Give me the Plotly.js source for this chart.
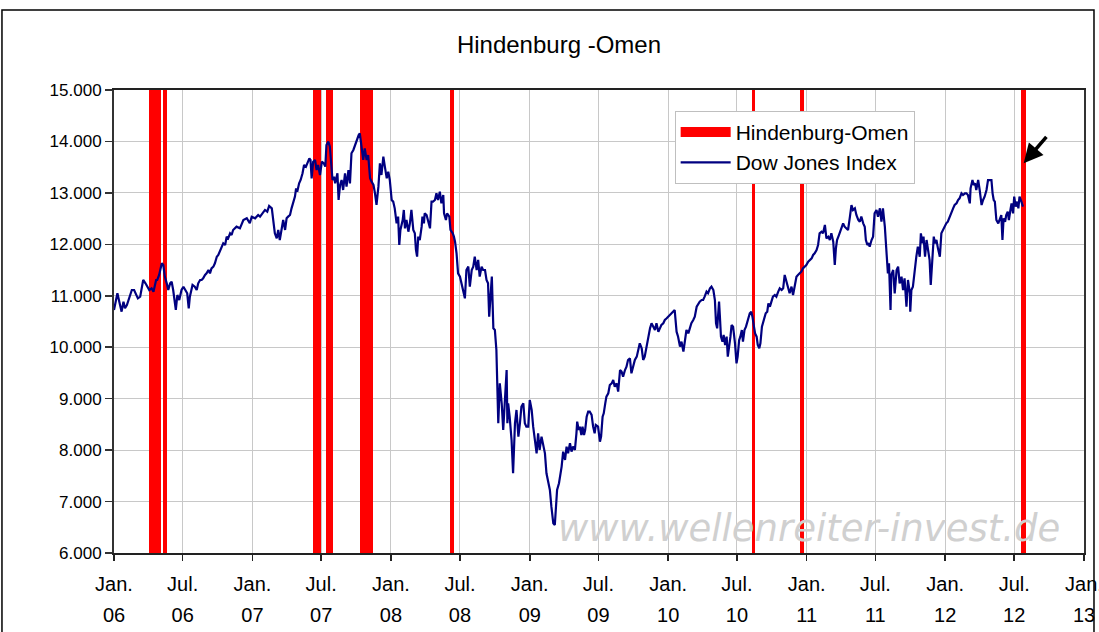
<!DOCTYPE html>
<html><head><meta charset="utf-8">
<script src="https://cdn.plot.ly/plotly-3.0.1.min.js"></script>
<style>html,body{margin:0;padding:0;background:#fff;}#chart{width:1099px;height:632px;}</style>
</head><body><div id="chart"></div>
<script>
// Dow Jones Index: days since 2006-01-01 and index level
const dowDays = [
  0,9,14,20,25,29,34,38,42,47, 53,58,63,69,74,77,83,88,93,99,
  104,107,111,114,119,123,126,130,134,139, 143,148,152,156,161,163,167,172,178,183,
  188,193,197,200,204,207,213,218,222,227, 231,235,240,244,249,253,257,262,266,271,
  275,279,284,288,293,297,301,306,310,314,
  323,332,341,350,358,363,372,380,
  385,392,398,404,409,416,420,424,429,433, 437,442,446,451,455,459,464,468,472,477,
  480,483,488,492,497,501,506,510,515,518, 521,525,530,534,538,543,548,553,557,560,
  565,569,572,576,580,583,589,592,596,600, 604,609,613,618,622,626,631,635,640,645,
  648,653,657,661,666,670,675,679,684,688, 692,697,701,705,710,714,719,723,727,732,
  736,740,745,749,752,755,761,764,767,771, 776,
  780,784,789,793,796,799,802,806,811,813, 817,819,824,828,833,837,841,846,850,854,
  859,863,868,870,875,878,884,887,893,896, 899,903,907,912,916,920,925,929,934,938,
  943,947,951,956,960,964,969,973,978,982, 986,989,993,996,1000,1004,1008,1010,1013,1017,
  1022,1026,1030,1035,1037,1039,1043,1048,1052,1057, 1061,1066,1070,1074,1079,1083,1087,1092,1096,1101,
  1105,1109,1114,1118,1122,1127,1131,1136,1140,1145, 1149,1153,1158,1162,1165,1168,1173,
  1180,1184,1189,1193,1197,1202,1206,1210,1215, 1219,1221,1225,1228,1232,1235,1239,1242,1246,1250,
  1254,1259,1263,1267,1270,1276,1281,1284,1288,1291, 1295,1298,1303,1307,1312,1316,1320,1325,1329,1334,
  1338,1342,1347,1351,1355,1360,1364,1369,1373,1378, 1382,1386,1391,1395,1399,1404,1408,1413,1417,1422,
  1426,1430,1435,1439,1443,1448,1452,1457,1461,1465, 1470,1474,1478,1483,1487,1492,1496,1501,1505,1509,
  1514,1518,1522,1527,1531,1536,1540,1544,1549,1553, 1557,1562,1566,1571,1575,1580,1584,1587,1590,1593,
  1595,
  1597,1600,1604,1607,1611,1615,1618,1622,1625,1628, 1632,1637,1641,1644,1648,1651,1655,1658,1662,1666,
  1669,1672,1676,1680,1683,1687,1690,1694,1697,1701, 1704,1708,1711,1715,1718,1722,1725,1729,1733,1737,
  1742,1746,1751,1755,1760,1764,1768,1773,1777,1781, 1786,1790,1795,1799,1803,1808,1812,1816,1821,1825,
  1830,1834,1839,1843,1847,1852,1856,1860,1865,1869, 1874,1878,1883,1887,1891,1896,1900,1903,1906,1911,
  1918,1922,1926,1931,1935,1940,1944,1948,1953,1957, 1962,1966,1970,1975,1979,1982,1986,1990,
  1992,1997,2001,2005,2010,2014,2019,2023,2027,2032, 2036,2040,2043,2047,2049,2054,2058,2063,2067,2071,
  2076,2080,2084,2089,2093,2098,2099,2102,2106,2111, 2115,2119,2124,2127,2131,2134,2138,2142,2146,2150,
  2153,2157,2161,2164,2168,2172,2177,2181,2185,2190, 2194,2198,2203,2207,2212,2216,2221,2225,2229,2234,
  2238,2243,2247,2251,2256,2258,2263,2266,2270,2273, 2278,2282,2287,2291,2295,2300,2304,2308,2313,2316,
  2319,2322,2326,2331,2335,2339,2342,2345,2349,2352, 2356,2359,2363,2366,2370,2373,2377,2381,2384,2387,
  2392,2396
];
const dowValues = [
  10724,11048,10886,10691,10886,10756,10821,10918,10983,11112, 11112,11015,10950,10983,11242,11307,11242,11177,11112,11145,
  11080,11177,11307,11307,11404,11534,11631,11598,11372,11242, 11112,11242,11274,11112,10886,10724,11015,10918,11112,11177,
  11112,11048,10756,10983,11112,11210,11177,11112,11242,11307, 11307,11339,11404,11436,11501,11436,11534,11566,11631,11760,
  11793,11857,11922,12020,11987,12149,12117,12214,12182,12279,
  12343,12311,12473,12506,12409,12537,12506,12570,
  12538,12603,12668,12635,12745,12700,12473,12214,12117,12279, 12085,12344,12473,12279,12506,12538,12571,12700,12797,12927,
  13089,13024,13186,13251,13381,13542,13510,13575,13672,13640, 13283,13607,13640,13445,13542,13348,13607,13575,13510,13931,
  13996,13899,13640,13251,13316,13186,13380,12862,13154,13251, 13057,13380,13121,13445,13186,13769,13834,13931,14028,14125,
  14158,13899,13640,13866,13640,13737,13283,13218,13154,12992, 12765,13121,13575,13348,13704,13510,13283,13413,13251,12862,
  12830,12700,12408,12538,11987,12279,12473,12668,12311,12473, 12246,
  12408,12668,12279,12214,11890,11761,12149,12084,12344,12538, 12408,12603,12570,12473,12311,12830,12830,12862,12992,12862,
  13024,12797,12959,12603,12473,12603,12538,12279,12214,12149, 12052,11825,11436,11372,11242,11177,10950,11501,11566,11177,
  11501,11566,11760,11501,11696,11372,11566,11501,11501,11307, 11242,10594,11113,11372,10367,10335,9946,9428,8521,9298,
  8910,8391,8910,9558,8521,8910,8650,8197,7549,8521, 8780,8262,8521,8845,8910,8521,8456,8456,8975,8780,
  8456,8262,7938,8327,8003,8262,8132,7938,7549,7355, 7225,6901,6577,6545,6901,7225,7355,
  7679,7970,7808,8067,7938,8132,7970,8067,8003, 8326,8553,8391,8456,8294,8456,8294,8391,8650,8748,
  8748,8683,8456,8326,8488,8456,8164,8262,8650,8715, 8910,9039,9104,9266,9298,9363,9233,9298,9136,9557,
  9525,9428,9557,9622,9752,9784,9493,9622,9752,9817, 9946,10076,9979,9752,9817,10011,10205,10367,10465,10400,
  10335,10465,10302,10367,10432,10465,10529,10562,10594,10626, 10659,10691,10724,10302,10205,10011,10108,9914,10173,10335,
  10270,10400,10465,10529,10594,10788,10853,10886,10918,10918, 10983,11080,11048,11145,11177,11112,10918,10465,10367,10788,
  10886,
  10626,10205,10108,10238,10043,10205,9817,10011,10205,10432, 10400,10076,9687,9817,10140,10205,10335,10108,10335,10400,
  10497,10562,10659,10691,10594,10400,10270,10205,10043,9979, 10076,10400,10465,10562,10659,10691,10853,10788,10918,10983,
  11015,10983,11080,11145,11112,11145,11404,11274,11145,11048, 11177,11015,11209,11371,11404,11436,11469,11533,11566,11598,
  11663,11695,11728,11793,11825,11890,11987,12214,12246,12214, 12376,12117,12149,12084,12214,12052,11598,11922,12084,12181,
  12343,12408,12343,12311,12279,12538,12764,12667,12700,12570, 12473,12441,12538,12408,12343,12084,11987,12020,
  11954,12084,12149,12602,12667,12538,12700,12440,12700,12343, 11954,11436,11630,10723,11404,11501,11047,11501,11566,11242,
  11371,11112,11339,10788,11307,11047,10691,11112,11177,11566, 11760,11954,11760,12214,12019,12149,11760,12084,11890,11695,
  11209,11825,12149,12019,12084,11922,11760,12214,12278,12343, 12408,12440,12538,12635,12700,12764,12797,12862,12894,12991,
  12959,12991,12991,12959,12797,13088,13250,13153,13185,13056, 13250,13056,12764,12862,12926,13056,13250,13250,13250,12991,
  12862,12829,12473,12408,12473,12570,12084,12505,12440,12570, 12635,12473,12667,12797,12602,12926,12732,12829,12700,12926,
  12829,12732
];
// Hindenburg-Omen signal periods
const omenStart = ['2006-04-03','2006-05-10','2007-06-09','2007-07-15','2007-10-11','2008-06-05','2010-08-09','2010-12-14','2012-07-20'];
const omenEnd   = ['2006-05-05','2006-05-21','2007-07-01','2007-07-31','2007-11-14','2008-06-16','2010-08-19','2010-12-25','2012-08-01'];
const omenLevel = 15000;
// axis ticks
const tickDates  = ['2006-01-01','2006-07-01','2007-01-01','2007-07-01','2008-01-01','2008-07-01','2009-01-01','2009-07-01','2010-01-01','2010-07-01','2011-01-01','2011-07-01','2012-01-01','2012-07-01','2013-01-01'];
const tickMonths = ['Jan.','Jul.','Jan.','Jul.','Jan.','Jul.','Jan.','Jul.','Jan.','Jul.','Jan.','Jul.','Jan.','Jul.','Jan.'];
const tickYears  = ['06','06','07','07','08','08','09','09','10','10','11','11','12','12','13'];
const yTicks = [6000,7000,8000,9000,10000,11000,12000,13000,14000,15000];

const DAY0 = Date.UTC(2006,0,1);
function iso(ms){ return new Date(ms).toISOString().slice(0,10); }
const dowDates = dowDays.map(d => iso(DAY0 + d*86400000));
const omenMs0 = omenStart.map(s => Date.parse(s+'T00:00:00Z'));
const omenMs1 = omenEnd.map(s => Date.parse(s+'T00:00:00Z'));
const omenCenter = omenMs0.map((a,i) => new Date((a+omenMs1[i])/2).toISOString());
const omenWidth = omenMs0.map((a,i) => omenMs1[i]-a);

const FONT = 'Liberation Sans, Arial, sans-serif';
const traces = [
  {type:'bar', x: omenCenter, y: omenStart.map(()=>omenLevel), width: omenWidth,
   marker:{color:'#ff0000', line:{width:0}}, showlegend:false, hoverinfo:'skip', legendgroup:'omen'},
  {type:'scatter', mode:'lines', x:[null], y:[null], name:'Hindenburg-Omen', legendgroup:'omen',
   line:{color:'#ff0000', width:15}, hoverinfo:'skip'},
  {type:'scatter', mode:'lines', x: dowDates, y: dowValues, name:'Dow Jones Index',
   line:{color:'#000080', width:2.2}},
  {type:'scatter', mode:'lines', x:[tickDates[0]], y:[null], xaxis:'x2', showlegend:false, hoverinfo:'skip'}
];
const layout = {
  width:1099, height:632,
  margin:{l:114, r:15, t:90, b:79},
  paper_bgcolor:'#fff', plot_bgcolor:'#fff',
  separators:',.',
  font:{family:FONT, color:'#000'},
  title:{text:'Hindenburg -Omen', x:0.5086, xref:'container', xanchor:'center', y:0.929, yref:'container', yanchor:'middle',
         font:{family:FONT, size:24, color:'#000'}},
  bargap:0,
  xaxis:{type:'date', range:['2006-01-01','2013-01-01'], tickmode:'array', tickvals:tickDates, ticktext:tickMonths,
         showgrid:true, gridcolor:'#c8c8c8', gridwidth:1, zeroline:false,
         showline:true, linecolor:'#222', linewidth:2, mirror:true,
         ticks:'outside', ticklen:6, tickcolor:'#222', tickwidth:1.5, ticklabelstandoff:6, ticklabeloverflow:'allow',
         tickfont:{family:FONT, size:20, color:'#000'}},
  xaxis2:{type:'date', overlaying:'x', anchor:'y', side:'bottom', range:['2006-01-01','2013-01-01'],
          tickmode:'array', tickvals:tickDates, ticktext:tickYears, showgrid:false, showline:false, zeroline:false,
          ticks:'', ticklabelstandoff:48, ticklabeloverflow:'allow', tickfont:{family:FONT, size:20, color:'#000'}},
  yaxis:{range:[6000,15000], tickmode:'array', tickvals:yTicks, tickformat:',d',
         showgrid:true, gridcolor:'#c8c8c8', gridwidth:1, zeroline:false,
         showline:true, linecolor:'#333', linewidth:2, mirror:true,
         ticks:'outside', ticklen:7, tickcolor:'#333', tickwidth:1.5,
         tickfont:{family:FONT, size:17, color:'#000'}},
  legend:{x:0.578, y:0.955, xanchor:'left', yanchor:'top', bgcolor:'#fff', bordercolor:'#bfbfbf', borderwidth:1,
          font:{family:FONT, size:21, color:'#000'}, itemwidth:50, tracegroupgap:0},
  shapes:[
    {type:'rect', xref:'paper', yref:'paper', x0:-0.1155, x1:1.0103, y0:-0.2, y1:1.1728,
     line:{color:'#000', width:1.5}, fillcolor:'rgba(0,0,0,0)', layer:'below'}
  ],
  annotations:[
    {xref:'paper', yref:'paper', x:0.4557, y:0.052, xanchor:'left', yanchor:'middle', showarrow:false,
     text:'www.wellenreiter-invest.de', font:{family:'DejaVu Sans', size:37, color:'#d0d0d0', style:'italic'}},
    {xref:'x', yref:'y', x:'2012-07-26', y:13575, ax:24, ay:-28, showarrow:true, arrowhead:2, arrowsize:1.1,
     arrowwidth:3.5, arrowcolor:'#000', standoff:0, text:''}
  ]
};
Plotly.newPlot('chart', traces, layout, {displayModeBar:false, staticPlot:true});
</script></body></html>
